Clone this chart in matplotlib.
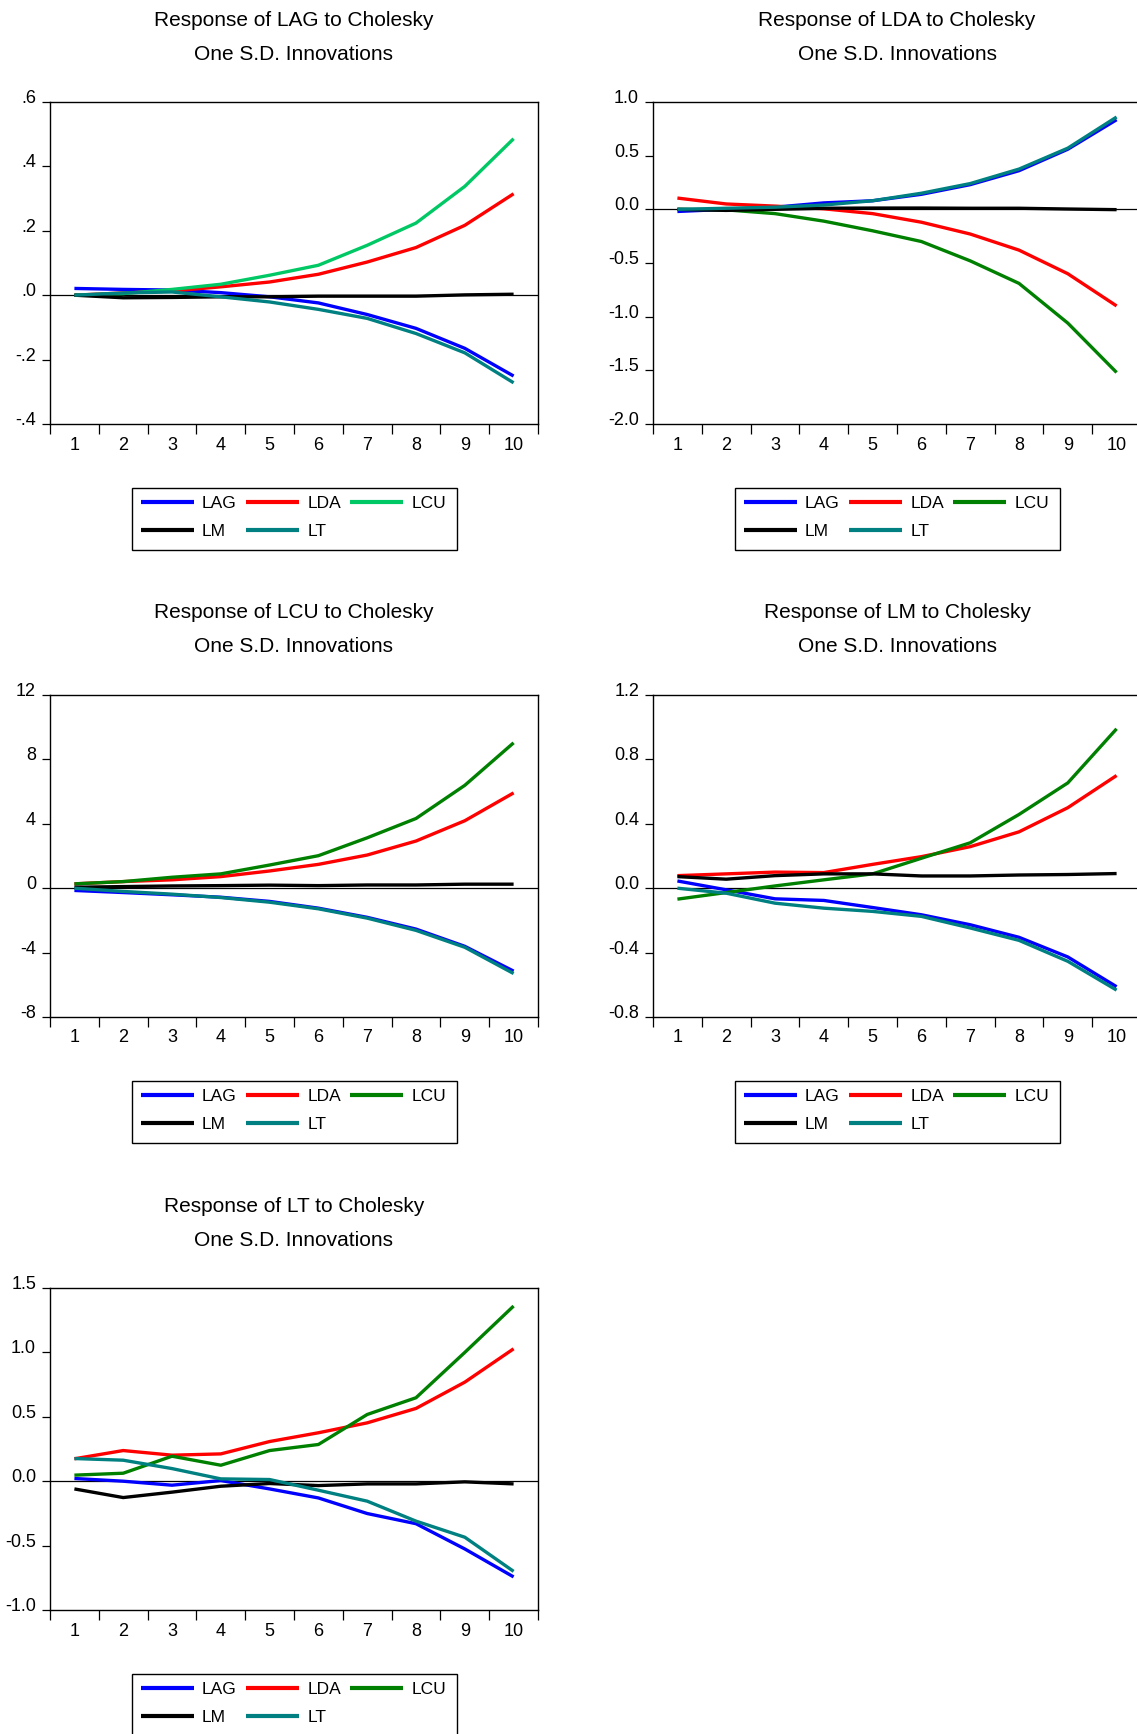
import numpy as np
import matplotlib
matplotlib.use('Agg')
import matplotlib.pyplot as plt
from matplotlib.patches import Rectangle
from matplotlib.transforms import ScaledTranslation

plt.rcParams['font.family'] = ['Liberation Sans', 'DejaVu Sans']

# Periodos de la respuesta impulso
periods = np.arange(1, 11)

# Respuesta de LAG
lag_resp = {
    'LAG': [0.021, 0.018, 0.016, 0.008, -0.005, -0.024, -0.060, -0.103, -0.165, -0.251],
    'LDA': [0.0, 0.007, 0.013, 0.026, 0.041, 0.065, 0.103, 0.148, 0.217, 0.315],
    'LCU': [0.0, 0.005, 0.018, 0.034, 0.062, 0.093, 0.155, 0.224, 0.338, 0.486],
    'LM': [0.0, -0.008, -0.007, -0.005, -0.005, -0.003, -0.003, -0.003, 0.001, 0.003],
    'LT': [0.0, 0.007, 0.010, -0.005, -0.021, -0.044, -0.072, -0.119, -0.179, -0.272],
}
# Respuesta de LDA
lda_resp = {
    'LAG': [-0.02, 0.0, 0.02, 0.06, 0.08, 0.14, 0.23, 0.36, 0.56, 0.835],
    'LDA': [0.105, 0.05, 0.03, 0.005, -0.04, -0.12, -0.23, -0.38, -0.60, -0.90],
    'LCU': [0.0, -0.005, -0.04, -0.11, -0.20, -0.30, -0.48, -0.69, -1.06, -1.52],
    'LM': [0.0, -0.01, 0.0, 0.01, 0.012, 0.012, 0.01, 0.01, 0.003, -0.003],
    'LT': [0.0, 0.01, 0.02, 0.04, 0.08, 0.15, 0.24, 0.375, 0.57, 0.86],
}
# Respuesta de LCU
lcu_resp = {
    'LAG': [-0.14, -0.27, -0.41, -0.56, -0.82, -1.24, -1.81, -2.54, -3.61, -5.15],
    'LDA': [0.27, 0.41, 0.52, 0.72, 1.07, 1.48, 2.06, 2.93, 4.19, 5.92],
    'LCU': [0.27, 0.41, 0.68, 0.89, 1.44, 2.02, 3.13, 4.33, 6.39, 9.03],
    'LM': [0.06, 0.10, 0.14, 0.16, 0.19, 0.16, 0.20, 0.20, 0.25, 0.25],
    'LT': [0.0, -0.20, -0.37, -0.58, -0.87, -1.28, -1.86, -2.62, -3.67, -5.30],
}
# Respuesta de LM
lm_resp = {
    'LAG': [0.045, -0.01, -0.066, -0.076, -0.12, -0.165, -0.227, -0.305, -0.427, -0.612],
    'LDA': [0.078, 0.089, 0.10, 0.097, 0.148, 0.196, 0.258, 0.35, 0.50, 0.70],
    'LCU': [-0.068, -0.027, 0.014, 0.052, 0.089, 0.186, 0.282, 0.458, 0.654, 0.99],
    'LM': [0.072, 0.056, 0.078, 0.089, 0.089, 0.076, 0.076, 0.082, 0.085, 0.091],
    'LT': [0.0, -0.031, -0.093, -0.124, -0.144, -0.175, -0.247, -0.324, -0.454, -0.633],
}
# Respuesta de LT
lt_resp = {
    'LAG': [0.021, 0.0, -0.031, 0.005, -0.06, -0.13, -0.251, -0.33, -0.526, -0.743],
    'LDA': [0.174, 0.238, 0.202, 0.212, 0.308, 0.376, 0.453, 0.565, 0.769, 1.028],
    'LCU': [0.047, 0.062, 0.194, 0.124, 0.238, 0.285, 0.518, 0.648, 1.0, 1.36],
    'LM': [-0.06, -0.127, -0.085, -0.039, -0.018, -0.034, -0.021, -0.021, -0.005, -0.021],
    'LT': [0.176, 0.163, 0.098, 0.018, 0.013, -0.07, -0.155, -0.31, -0.435, -0.70],
}

# Marcas del eje Y de cada panel
yticks_lag = [-0.4, -0.2, 0.0, 0.2, 0.4, 0.6]
ylabels_lag = ['-.4', '-.2', '.0', '.2', '.4', '.6']
yticks_lda = [-2.0, -1.5, -1.0, -0.5, 0.0, 0.5, 1.0]
ylabels_lda = ['-2.0', '-1.5', '-1.0', '-0.5', '0.0', '0.5', '1.0']
yticks_lcu = [-8, -4, 0, 4, 8, 12]
ylabels_lcu = ['-8', '-4', '0', '4', '8', '12']
yticks_lm = [-0.8, -0.4, 0.0, 0.4, 0.8, 1.2]
ylabels_lm = ['-0.8', '-0.4', '0.0', '0.4', '0.8', '1.2']
yticks_lt = [-1.0, -0.5, 0.0, 0.5, 1.0, 1.5]
ylabels_lt = ['-1.0', '-0.5', '0.0', '0.5', '1.0', '1.5']

shocks = ['LAG', 'LDA', 'LCU', 'LM', 'LT']
colors = {'LAG': '#0000ff', 'LDA': '#ff0000', 'LCU': '#008000',
          'LM': '#000000', 'LT': '#008080'}

panels = [
    ('LAG', lag_resp, yticks_lag, ylabels_lag, 0, 0),
    ('LDA', lda_resp, yticks_lda, ylabels_lda, 0, 1),
    ('LCU', lcu_resp, yticks_lcu, ylabels_lcu, 1, 0),
    ('LM', lm_resp, yticks_lm, ylabels_lm, 1, 1),
    ('LT', lt_resp, yticks_lt, ylabels_lt, 2, 0),
]

W, H = 1137, 1734
fig = plt.figure(figsize=(W / 100, H / 100), dpi=100, facecolor='white')

col_left = [50, 653]
ax_w, ax_h = 488, 322
tick_fs = 13
leg_fs = 12.5

for i, (name, resp, yt, yl, row, col) in enumerate(panels):
    left = col_left[col]
    top = 102 + 593 * row
    ax = fig.add_axes([left / W, 1 - (top + ax_h) / H, ax_w / W, ax_h / H])

    handles = {}
    for s in shocks:
        c = colors[s]
        if i == 0 and s == 'LCU':
            c = '#00c864'
        ln, = ax.plot(periods, resp[s], color=c, lw=2.4, solid_capstyle='butt')
        handles[s] = ln

    ax.axhline(0, color='black', lw=0.9, zorder=0.5)
    ax.set_xlim(0.5, 10.5)
    ax.set_ylim(yt[0], yt[-1])

    ax.set_xticks(np.arange(0.5, 11, 1))
    ax.set_xticklabels([])
    ax.set_xticks(periods, minor=True)
    ax.set_xticklabels([str(p) for p in periods], minor=True)
    ax.tick_params(axis='x', which='major', direction='out', length=7, width=0.9)
    ax.tick_params(axis='x', which='minor', length=0, pad=9, labelsize=tick_fs)

    ax.set_yticks(yt)
    ax.set_yticklabels(yl)
    ax.tick_params(axis='y', direction='out', length=6, width=0.9, pad=4, labelsize=tick_fs)
    off = ScaledTranslation(0, 4 / 72, fig.dpi_scale_trans)
    for lab in ax.get_yticklabels():
        lab.set_transform(lab.get_transform() + off)

    for sp in ax.spines.values():
        sp.set_linewidth(1.0)

    # Titulo de dos lineas
    cx = (left + ax_w / 2) / W
    fig.text(cx, 1 - (top - 82) / H, f'Response of {name} to Cholesky',
             ha='center', va='center', fontsize=15)
    fig.text(cx, 1 - (top - 48) / H, 'One S.D. Innovations',
             ha='center', va='center', fontsize=15)

    # Marco de la leyenda
    bx, by = left + 82, top + 386
    fig.patches.append(Rectangle((bx / W, 1 - (by + 62) / H), 325 / W, 62 / H,
                                 transform=fig.transFigure, fill=False,
                                 edgecolor='black', lw=1.0))

    # Leyenda en tres columnas (orden por filas)
    order = ['LAG', 'LM', 'LDA', 'LT', 'LCU']
    leg = fig.legend([handles[s] for s in order], order,
                     loc='upper left',
                     bbox_to_anchor=((bx + 9) / W, 1 - (by + 7.5) / H),
                     ncol=3, fontsize=leg_fs, frameon=False,
                     handlelength=3.05, handletextpad=0.46,
                     columnspacing=0.55, borderpad=0, labelspacing=0.74,
                     borderaxespad=0)
    for lh in leg.get_lines():
        lh.set_linewidth(3)

fig.savefig('out.png', dpi=100, facecolor='white')
